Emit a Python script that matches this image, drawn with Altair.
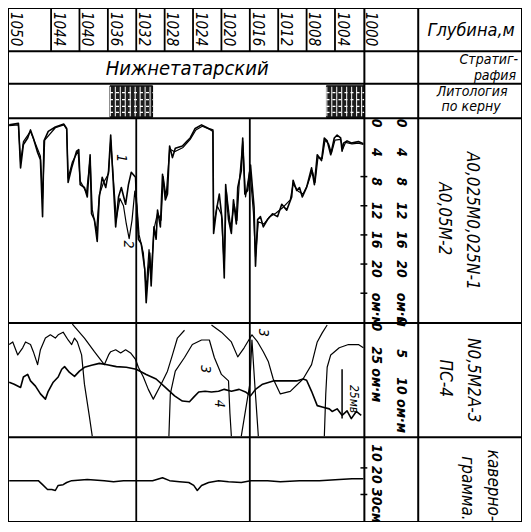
import altair as alt
import pandas as pd
import numpy as np

depth_ticks = [1050, 1044, 1040, 1036, 1032, 1028, 1024, 1020, 1016, 1012, 1008, 1004, 1000]
track_grid = [1032, 1016]
strat_name = "Нижнетатарский"
core_top = [1035.7, 1005.2]
core_bottom = [1029.7, 999.9]

# Track 1 : curve 1 (A0,025M0,025N) and curve 2 (A0,05M), ohm*m
c1_depth = [1049.9,1048.6,1048.3,1047.9,1047.3,1046.9,1046.5,1045.9,1045.5,1045.2,
            1045.0,1044.4,1043.4,1042.2,1041.8,1041.6,1041.1,1040.4,1040.1,1039.9,
            1039.3,1038.9,1038.5,1038.3,1037.9,1037.5,1037.2,1036.8,1036.3,1035.9,
            1035.6,1035.2,1034.9,1034.5,1034.1,1033.5,1033.1,1032.7,1032.1,1032.0,
            1031.7,1031.3,1030.8,1030.6,1030.1,1029.9,1029.5,1029.2,1029.0,1028.6,
            1028.3,1027.9,1027.6,1027.3,1026.9,1026.5,1025.5,1024.8,1024.4,1023.7,
            1022.8,1021.8,1021.2,1021.1,1020.7,1020.3,1019.9,1019.6,1019.4,1019.0,
            1018.6,1018.3,1017.9,1017.7,1017.2,1017.0,1016.7,1016.3,1015.9,1015.4,
            1015.2,1014.9,1014.5,1014.1,1013.5,1012.8,1012.1,1011.5,1010.8,1010.1,
            1009.9,1009.4,1009.0,1008.6,1008.0,1007.3,1006.9,1006.5,1005.9,1005.5,
            1005.1,1004.6,1004.1,1003.7,1003.2,1003.0,1002.8,1002.3,1001.7,1000.7,
            1000.0]
c1_val = [0.9,0.7,6.8,3.6,2.7,1.6,2.7,4.7,5.7,13.5,
          3.1,1.8,1.2,0.8,1.4,8.8,6.8,4.5,4.3,9.1,
          9.5,10.8,5.0,13.1,13.9,16.9,10.8,8.1,9.5,7.2,
          2.3,9.5,14.9,10.8,9.5,11.8,9.1,7.4,8.1,10.8,
          16.6,17.2,20.7,25.3,18.5,23.0,14.9,16.6,12.6,14.9,
          7.7,11.2,10.4,3.8,5.4,4.1,3.8,3.1,2.7,1.4,
          0.9,1.4,1.6,15.8,12.6,10.4,13.9,21.9,9.1,13.9,
          15.8,11.2,14.5,9.5,7.2,2.7,10.4,9.9,6.4,12.2,
          20.3,13.9,13.5,14.9,13.9,13.1,13.5,11.8,12.6,10.8,
          8.5,9.9,9.5,10.8,9.5,6.8,9.1,5.0,5.8,2.7,
          3.1,5.0,2.7,2.3,2.7,4.5,3.4,3.1,3.4,3.2,
          3.5]
c2_depth = [1049.9,1048.6,1048.3,1047.9,1046.9,1046.2,1045.5,1045.2,1044.9,1043.4,
            1042.2,1041.8,1041.6,1041.0,1040.2,1039.9,1039.0,1038.5,1038.2,1037.6,
            1037.2,1036.6,1035.9,1035.6,1035.1,1034.8,1034.3,1033.8,1033.4,1033.0,
            1032.6,1032.2,1031.9,1031.6,1031.0,1030.6,1030.2,1029.9,1029.5,1029.0,
            1028.5,1028.2,1027.8,1027.3,1026.6,1025.4,1024.4,1023.6,1022.7,1021.7,
            1021.2,1021.1,1020.6,1020.0,1019.6,1019.3,1018.7,1018.2,1017.8,1017.5,
            1017.0,1016.6,1016.0,1015.5,1015.2,1014.8,1014.0,1013.2,1012.3,1011.3,
            1010.3,1009.9,1009.2,1008.5,1007.9,1007.2,1006.8,1006.4,1005.8,1005.4,
            1004.9,1004.5,1004.0,1003.2,1002.9,1002.5,1001.6,1000.7,1000.0]
c2_val = [1.0,0.9,6.0,3.2,1.8,3.5,5.2,11.0,3.0,1.3,
          0.9,1.5,8.2,6.0,4.5,8.6,10.2,5.5,12.5,15.5,
          10.5,8.8,7.6,3.0,10.0,13.8,11.0,12.0,14.5,16.5,
          14.0,10.0,12.0,16.0,18.5,23.5,18.0,21.5,15.2,13.0,
          14.0,8.0,10.8,4.2,4.6,4.0,2.9,1.6,1.1,1.5,
          1.8,14.8,12.0,13.2,20.5,10.0,15.0,11.8,14.0,9.0,
          3.2,10.8,7.0,12.8,19.0,14.2,14.5,13.5,13.0,12.2,
          11.2,9.0,10.0,10.4,9.2,7.2,8.8,5.4,5.5,3.0,
          3.5,4.8,3.0,2.9,4.2,3.3,3.5,3.4,3.6]

# Track 2 : curve 3 (N0,5M2A, drawn in pieces where it leaves the scale)
c3a_depth = [1049.9,1049.4,1048.7,1048.0,1047.6,1046.9,1046.5,1045.9,1045.5,1044.8,
             1044.1,1043.4,1043.0,1042.3,1041.6,1041.1,1040.7,1040.3,1039.7,1039.3,
             1038.6,1038.2]
c3a_val = [3.6,3.2,5.2,4.1,3.2,3.6,4.7,6.7,4.4,2.6,
           2.1,2.6,2.1,1.7,2.9,3.6,2.6,3.2,5.2,9.7,
           14.7,17.7]
c3b_depth = [1041.0,1039.3,1037.9,1036.5,1035.9,1035.6,1034.9,1034.2,1033.5,1032.8,
             1032.1,1031.7,1031.0,1030.3,1029.6,1028.5,1027.6,1026.9,1026.2,1025.2]
c3b_val = [0.45,2.6,4.7,6.7,5.2,4.7,4.4,4.9,4.4,4.9,
           5.9,7.1,8.6,10.5,12.0,9.7,7.7,5.2,2.6,1.4]
c3c_depth = [1027.4,1027.2,1026.5,1025.2,1024.1,1022.8,1021.7,1021.0,1020.0,1019.0,1018.8,1018.6]
c3c_val = [17.7,11.2,7.7,5.6,3.6,2.9,2.9,5.6,8.2,9.2,14.2,17.7]
c3d_depth = [1021.4,1020.0,1018.6,1017.7,1016.8,1015.7,1014.9,1014.1,1013.4,1012.7,
             1011.7,1010.3,1008.5,1007.3,1006.5,1005.8,1005.1]
c3d_val = [0.6,1.7,3.2,5.5,4.1,2.1,3.2,4.7,6.2,8.9,
           11.2,10.8,8.9,6.7,3.2,1.8,0.6]
c3e_depth = [1017.2,1016.0,1015.7,1015.3,1014.8]
c3e_val = [17.7,9.7,2.9,9.7,17.7]
c3f_depth = [1005.5,1005.3,1005.1,1004.6,1003.4,1002.1,1000.7,1000.0]
c3f_val = [17.7,11.2,7.1,5.2,4.1,3.6,3.6,4.1]

# Track 2 : curve 4 (ПС)
c4_depth = [1049.9,1049.2,1048.3,1047.9,1047.3,1046.9,1046.2,1045.5,1044.8,1044.4,
            1043.7,1043.0,1042.5,1042.1,1041.4,1040.7,1040.0,1039.3,1038.3,1037.2,
            1036.1,1034.8,1033.4,1032.0,1030.6,1029.2,1027.9,1026.6,1025.5,1024.5,
            1023.9,1023.2,1022.3,1021.4,1020.4,1019.6,1018.6,1017.5,1016.6,1015.9,
            1015.2,1014.2,1012.7,1010.8,1009.4,1008.5,1008.0,1007.3,1006.5,1005.8,
            1004.8,1004.4,1003.7,1003.0,1002.3,1001.7,1001.0,1000.3]
c4_val = [9.4,9.7,10.2,8.6,8.2,9.2,10.0,11.2,12.0,10.8,
          9.4,8.6,7.4,7.0,7.9,8.5,7.7,7.1,6.8,6.5,
          6.7,7.0,7.1,7.4,8.2,8.9,10.2,11.5,12.3,12.4,
          11.7,10.9,10.8,10.9,10.8,10.5,10.8,10.5,10.9,11.5,
          10.5,9.7,9.2,9.2,9.2,8.9,9.1,10.8,13.0,13.2,
          13.5,13.9,13.5,14.5,13.8,15.0,13.9,14.5]

# Track 3 : caliper, cm
cal_depth = [1049.9,1047.6,1045.8,1045.2,1044.5,1043.9,1043.4,1043.0,1042.3,1041.8,
             1041.1,1038.9,1036.5,1035.2,1033.8,1032.0,1029.7,1028.3,1027.3,1025.9,
             1024.6,1023.9,1023.4,1022.8,1021.8,1020.4,1019.0,1017.2,1015.9,1013.5,
             1011.7,1009.0,1006.2,1003.4,1001.6,1000.0]
cal_val = [24.8,24.8,24.8,26.3,28.1,28.1,28.5,26.6,26.3,25.5,
           24.8,24.4,24.8,25.2,24.8,24.8,24.8,23.7,24.8,25.2,
           25.5,26.6,28.5,26.6,25.5,24.8,25.2,25.5,24.8,24.8,
           25.2,24.8,24.8,24.4,24.1,24.1]

scale1_text = ["0", "4", "8", "12", "16", "20", "ом·м"]
scale1_pos = [0, 4, 8, 12, 16, 20, 25.6]
scale1_ticks = [8, 12, 16, 20, 24]
scale2a_text = ["0", "25 ом·м"]
scale2a_pos = [0.9, 8.2]
scale2b_text = ["0", "5", "10", "ом·м"]
scale2b_pos = [0, 5, 10, 14.6]
scale3_ticks = [20, 30]
curve_tags1 = ["1", "2"]
curve_tags1_depth = [1034.1, 1033.2]
curve_tags1_val = [5.5, 17.3]
curve_tags2 = ["3", "3", "4"]
curve_tags2_depth = [1022.3, 1014.1, 1020.4]
curve_tags2_val = [7.4, 1.8, 12.7]

# ---------------- layout ----------------
W, H = 514, 514
IX0, IX1, IY0, IY1 = 2, 527, 8, 530
def px(ix):
    return (ix - IX0) * W / (IX1 - IX0)
def py(iy):
    return (iy - IY0) * H / (IY1 - IY0)

FONT = "Liberation Sans Narrow, DejaVu Sans Condensed, Liberation Sans, sans-serif"
XS = alt.Scale(domain=[1050.07, 977.65], zero=False, nice=False)

def yscale(lo, hi, top, bot):
    return alt.Scale(domain=[lo, hi], range=[py(top), py(bot)], zero=False, nice=False)

T1 = yscale(0, 28.1, 120, 328)
T1L = yscale(0, 28.1, 125, 333)
T2 = yscale(0.3, 17.88, 328, 444)
T3 = yscale(8.5, 40.35, 444, 530)

ROWS = [8, 52, 85, 120, 328, 444, 530]
COLS = [2, 366, 421, 527]

frame = pd.DataFrame(
    [dict(x0=px(IX0), x1=px(IX1), y0=py(r), y1=py(r)) for r in ROWS] +
    [dict(x0=px(c), x1=px(c), y0=py(IY0), y1=py(IY1)) for c in COLS])

layers = []
layers.append(alt.Chart(frame).mark_rule(color="black", strokeWidth=2).encode(
    x=alt.X("x0:Q", scale=None, axis=None), x2="x1:Q",
    y=alt.Y("y0:Q", scale=None, axis=None), y2="y1:Q"))

# depth header separators
layers.append(alt.Chart(pd.DataFrame({"d": depth_ticks[1:-1]})).mark_rule(color="black", strokeWidth=1.8).encode(
    x=alt.X("d:Q", scale=XS, axis=None), y=alt.value(py(8)), y2=alt.value(py(52))))
# track grid
layers.append(alt.Chart(pd.DataFrame({"d": track_grid})).mark_rule(color="black", strokeWidth=1.8).encode(
    x=alt.X("d:Q", scale=XS, axis=None), y=alt.value(py(120)), y2=alt.value(py(530))))

# depth labels
layers.append(alt.Chart(pd.DataFrame({"d": depth_ticks})).transform_calculate(
    xl="datum.d - 1.1", lab="format(datum.d, 'd')").mark_text(
    angle=90, align="left", baseline="middle", font=FONT, fontSize=15,
    fontStyle="italic", color="black").encode(
    x=alt.X("xl:Q", scale=XS, axis=None), y=alt.value(py(12)), text="lab:N"))

# stratigraphy
layers.append(alt.Chart(pd.DataFrame({"t": [strat_name]})).mark_text(
    font=FONT, fontSize=20, fontStyle="italic", color="black", baseline="middle").encode(
    x=alt.value(px(185)), y=alt.value(py(70)), text="t:N"))

# lithology (core) blocks
core = pd.DataFrame({"a": core_top, "b": core_bottom})
layers.append(alt.Chart(core).mark_rect(color="#1c1c1c", stroke="black", strokeWidth=1).encode(
    x=alt.X("a:Q", scale=XS, axis=None), x2="b:Q", y=alt.value(py(87)), y2=alt.value(py(119))))
stripes = pd.DataFrame({"d": np.concatenate([np.arange(b + 0.35, a, 0.7) for a, b in zip(core_top, core_bottom)])})
layers.append(alt.Chart(stripes).mark_rule(color="white", strokeWidth=1).encode(
    x=alt.X("d:Q", scale=XS, axis=None), y=alt.value(py(88)), y2=alt.value(py(118))))
dash_rows = pd.DataFrame([dict(a=a, b=b, y=py(yy)) for a, b in zip(core_top, core_bottom) for yy in (94, 101, 108, 114)])
layers.append(alt.Chart(dash_rows).mark_rule(color="white", strokeWidth=1.3, strokeDash=[3, 3]).encode(
    x=alt.X("a:Q", scale=XS, axis=None), x2="b:Q", y=alt.Y("y:Q", scale=None, axis=None)))

def line_df(dep, val, seg=0):
    return pd.DataFrame({"d": dep, "v": val, "i": range(len(dep)), "seg": seg})

def curve(df, scale, width):
    return alt.Chart(df).mark_line(color="black", strokeWidth=width, strokeJoin="round").encode(
        x=alt.X("d:Q", scale=XS, axis=None), y=alt.Y("v:Q", scale=scale, axis=None),
        detail="seg:N", order="i:Q")

layers.append(curve(line_df(c2_depth, c2_val), T1, 1.2))
layers.append(curve(line_df(c1_depth, c1_val), T1, 1.6))
c3 = pd.concat([line_df(c3a_depth, c3a_val, 0), line_df(c3b_depth, c3b_val, 1),
                line_df(c3c_depth, c3c_val, 2), line_df(c3d_depth, c3d_val, 3),
                line_df(c3e_depth, c3e_val, 4), line_df(c3f_depth, c3f_val, 5)])
layers.append(curve(c3, T2, 1.2))
layers.append(curve(line_df(c4_depth, c4_val), T2, 1.6))
layers.append(curve(line_df(cal_depth, cal_val), T3, 1.5))

# 25 mV bar
layers.append(alt.Chart(pd.DataFrame({"d": [1003.0], "v": [7.4], "v2": [15.0]})).mark_rule(
    color="black", strokeWidth=1.5).encode(
    x=alt.X("d:Q", scale=XS, axis=None), y=alt.Y("v:Q", scale=T2, axis=None), y2="v2:Q"))
layers.append(alt.Chart(pd.DataFrame({"d": [1001.3], "v": [12.0], "t": ["25мв"]})).mark_text(
    angle=90, font=FONT, fontSize=12, fontStyle="italic", color="black", baseline="middle").encode(
    x=alt.X("d:Q", scale=XS, axis=None), y=alt.Y("v:Q", scale=T2, axis=None), text="t:N"))

# curve tags
layers.append(alt.Chart(pd.DataFrame({"d": curve_tags1_depth, "v": curve_tags1_val, "t": curve_tags1})).mark_text(
    angle=90, font=FONT, fontSize=14, fontStyle="italic", color="black", baseline="middle").encode(
    x=alt.X("d:Q", scale=XS, axis=None), y=alt.Y("v:Q", scale=T1, axis=None), text="t:N"))
layers.append(alt.Chart(pd.DataFrame({"d": curve_tags2_depth, "v": curve_tags2_val, "t": curve_tags2})).mark_text(
    angle=90, font=FONT, fontSize=14, fontStyle="italic", color="black", baseline="middle").encode(
    x=alt.X("d:Q", scale=XS, axis=None), y=alt.Y("v:Q", scale=T2, axis=None), text="t:N"))

# scale column ticks
layers.append(alt.Chart(pd.DataFrame({"v": scale1_ticks})).mark_rule(color="black", strokeWidth=1.5).encode(
    x=alt.value(px(362)), x2=alt.value(px(369)), y=alt.Y("v:Q", scale=T1, axis=None)))
layers.append(alt.Chart(pd.DataFrame({"v": scale3_ticks})).mark_rule(color="black", strokeWidth=1.5).encode(
    x=alt.value(px(362)), x2=alt.value(px(369)), y=alt.Y("v:Q", scale=T3, axis=None)))

def scale_text(texts, pos, scale, ix):
    return alt.Chart(pd.DataFrame({"t": texts, "v": pos})).mark_text(
        angle=90, font=FONT, fontSize=14, fontStyle="italic", fontWeight="bold", color="black",
        baseline="middle").encode(
        x=alt.value(px(ix)), y=alt.Y("v:Q", scale=scale, axis=None), text="t:N")

layers.append(scale_text(scale1_text, scale1_pos, T1L, 378))
layers.append(scale_text(scale1_text, scale1_pos, T1L, 403))
layers.append(scale_text(scale2a_text, scale2a_pos, T2, 378))
layers.append(scale_text(scale2b_text, scale2b_pos, T2, 403))
layers.append(alt.Chart(pd.DataFrame({"t": ["10 20 30см"]})).mark_text(
    angle=90, align="left", font=FONT, fontSize=14, fontStyle="italic", fontWeight="bold",
    color="black", baseline="middle").encode(
    x=alt.value(px(378)), y=alt.value(py(451)), text="t:N"))

# right-hand caption column
def htext(t, ix, iy, size, align="center"):
    return alt.Chart(pd.DataFrame({"t": [t]})).mark_text(
        font=FONT, fontSize=size, fontStyle="italic", color="black", align=align, baseline="middle").encode(
        x=alt.value(px(ix)), y=alt.value(py(iy)), text="t:N")

def vtext(t, ix, iy, size):
    return alt.Chart(pd.DataFrame({"t": [t]})).mark_text(
        angle=90, font=FONT, fontSize=size, fontStyle="italic", color="black", align="center",
        baseline="middle").encode(
        x=alt.value(px(ix)), y=alt.value(py(iy)), text="t:N")

layers += [
    htext("Глубина,м", 475, 31, 18),
    htext("Стратиг-", 523, 61, 14, "right"),
    htext("рафия", 521, 77, 14, "right"),
    htext("Литология", 476, 93, 14),
    htext("по керну", 475, 109, 14),
    vtext("A0,025M0,025N-1", 476, 224, 17),
    vtext("A0,05M-2", 447, 222, 17),
    vtext("N0,5M2A-3", 477, 386, 17),
    vtext("ПС-4", 448, 384, 17),
    vtext("каверно-", 497, 493, 17),
    vtext("грамма.", 471, 496, 17),
]

chart = alt.layer(*layers).resolve_scale(y="independent").properties(
    width=W, height=H, padding=0, autosize=alt.AutoSizeParams(type="none"),
    background="white").configure_view(stroke=None)

chart.save("out.html", embed_options={"renderer": "svg", "actions": False})
